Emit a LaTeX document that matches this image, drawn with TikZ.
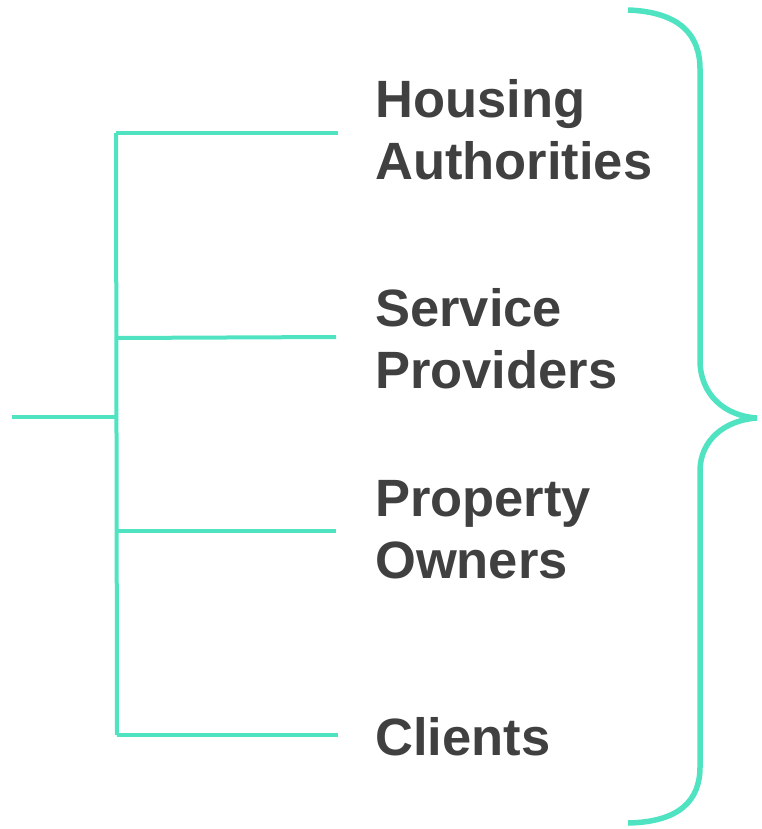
\documentclass[tikz,border=0pt]{standalone}
\usepackage{fontspec}
\setmainfont{Liberation Sans}
\definecolor{teal1}{HTML}{50E3C2}
\definecolor{ink}{HTML}{404040}
\begin{document}
\begin{tikzpicture}[x=1pt,y=-1pt]
            \tikzstyle{branch}=[draw=teal1, line width=4pt]
            \tikzstyle{label}=[anchor=base west, inner sep=0pt, align=left, text=ink, font=\bfseries\fontsize{52.5}{61.5}\selectfont]
            \useasboundingbox (0,0) rectangle (761,829);
            \coordinate (root) at (12,417);
            \coordinate (J) at (116,417);
            \coordinate (T) at (116,133);
            \coordinate (B) at (117,735);
            \coordinate (e1) at (338,133);
            \coordinate (e2) at (336,337);
            \coordinate (e3) at (336,531);
            \coordinate (e4) at (338,735);
            % base anchor sits on the last line
            \node[label] (ha) at (375,179) {Housing\\Authorities};
            \node[label] (sp) at (375,388) {Service\\Providers};
            \node[label] (po) at (375,578) {Property\\Owners};
            \node[label] (cl) at (375,755) {Clients};
            \draw[branch] (root) -- (J);
            \draw[branch] (T) -- (B);
            \draw[branch] (T) -- (e1);
            \draw[branch] (116,338) -- (e2);
            \draw[branch] (116,531) -- (e3);
            \draw[branch] (B) -- (e4);
            % brace
            \coordinate (tip) at (757,418);
            \draw[draw=teal1, line width=5.5pt] (628,10) .. controls (680,12) and (700,35) .. (700,69)
                -- (700,360) .. controls (700,395) and (725,416) .. (tip)
                .. controls (725,420) and (700,440) .. (700,471)
                -- (700,767) .. controls (700,800) and (680,822) .. (628,823);
        \end{tikzpicture}
\end{document}
